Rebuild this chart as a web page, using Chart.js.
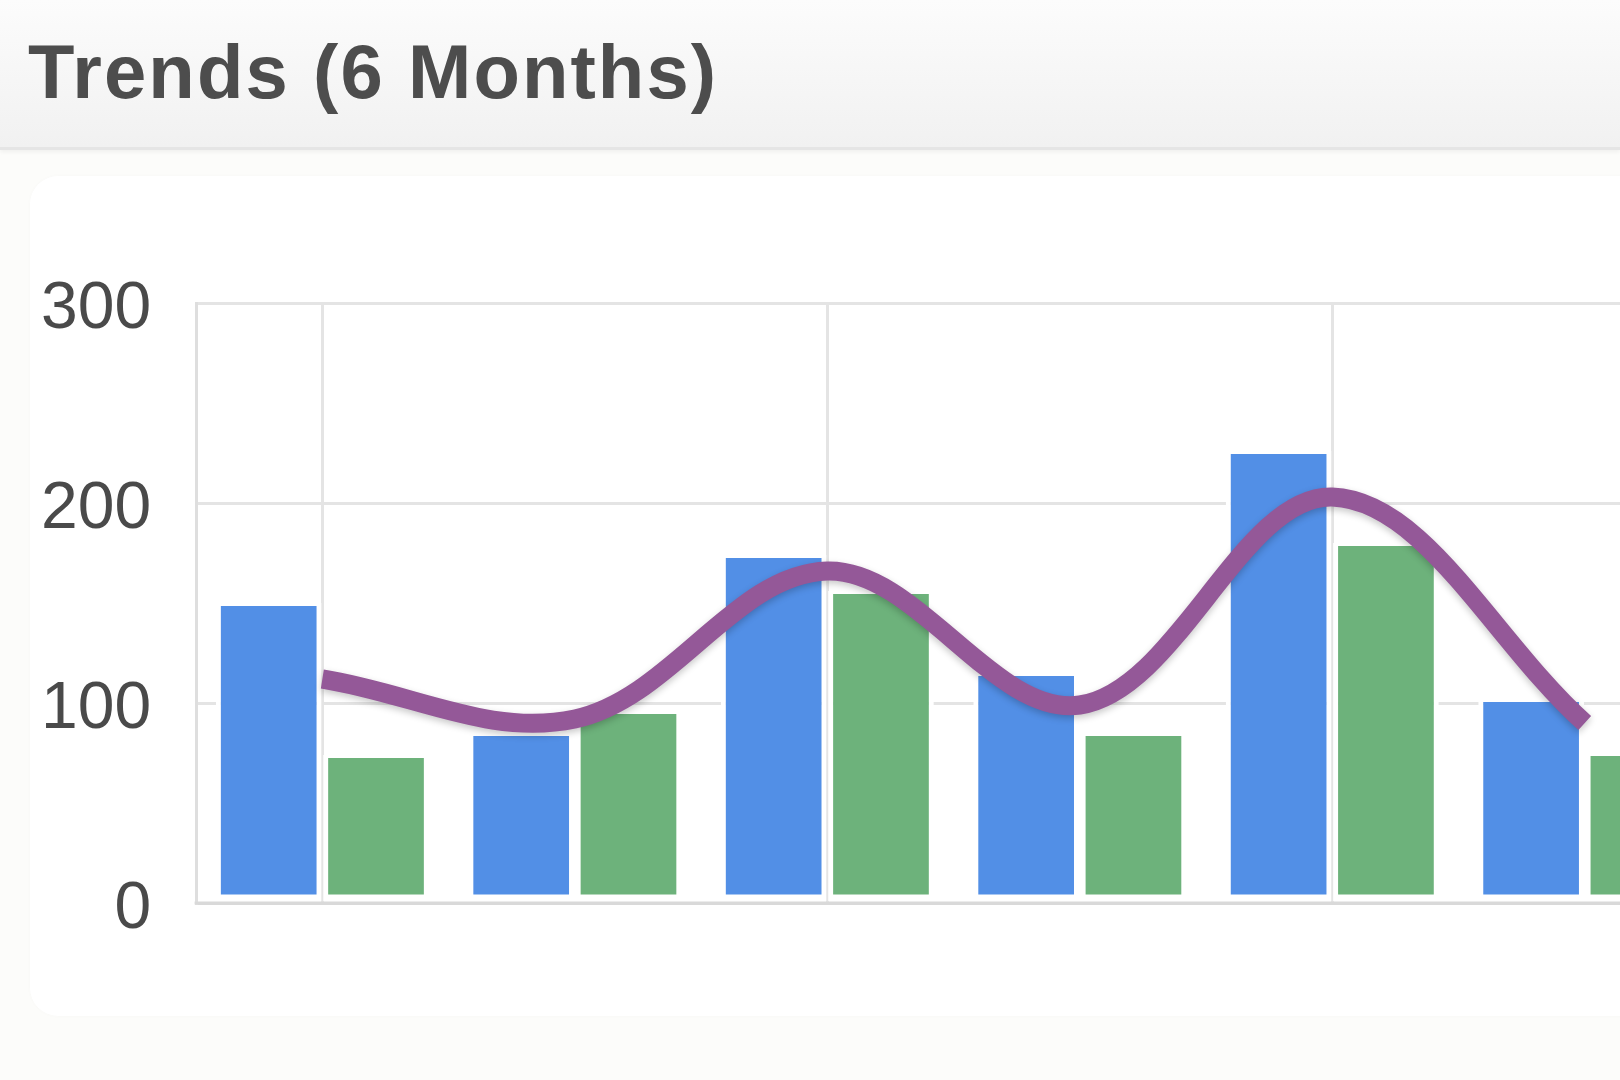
<!DOCTYPE html>
<html>
<head>
<meta charset="utf-8">
<title>Trends (6 Months)</title>
<script src="https://cdn.jsdelivr.net/npm/chart.js@4.4.1/dist/chart.umd.min.js"></script>
<style>
  html, body { margin: 0; padding: 0; }
  body {
    width: 1620px; height: 1080px; overflow: hidden; position: relative;
    background: #fcfcfa;
    font-family: 'Liberation Sans', Arial, sans-serif;
  }
  .panel-head {
    position: absolute; left: 0; top: 0; width: 1620px; height: 147px;
    background: linear-gradient(#fcfcfc, #f1f1f1);
    border-bottom: 3px solid #e5e5e5;
    box-shadow: 0 2px 4px rgba(0,0,0,0.05);
    z-index: 2;
  }
  .panel-head h3 {
    position: absolute; left: 28px; top: 34px; margin: 0;
    font-size: 76px; line-height: 1; font-weight: bold; color: #4d4d4d;
    letter-spacing: 2.1px;
  }
  .card {
    position: absolute; left: 30px; top: 176px; width: 1720px; height: 840px;
    background: #fff; border-radius: 28px;
    box-shadow: 0 0 4px rgba(0,0,0,0.02);
  }
  .chart-box {
    position: absolute; left: -46px; top: 150px; width: 1797px; height: 930px;
  }
</style>
</head>
<body>
<div class="panel-head"><h3>Trends (6 Months)</h3></div>
<div class="card"></div>
<div class="chart-box"><canvas id="trendChart"></canvas></div>

<script>
// --- data ---
const months = ['Month 1', 'Month 2', 'Month 3', 'Month 4', 'Month 5', 'Month 6'];
const blueValues = [150, 85, 174, 115, 226, 102];
const greenValues = [74, 96, 156, 85, 180, 75];
const trendValues = [112, 92, 166, 99, 203, 90];
const yTicks = [0, 100, 200, 300];

const gridColor = '#e4e4e4';

// soft shadow under the trend line
const lineShadow = {
    id: 'lineShadow',
    beforeDatasetDraw(chart, args) {
        if (args.index !== 2) return;
        const ctx = chart.ctx;
        ctx.save();
        ctx.shadowColor = 'rgba(0,0,0,0.22)';
        ctx.shadowBlur = 7;
        ctx.shadowOffsetY = 3;
    },
    afterDatasetDraw(chart, args) {
        if (args.index === 2) chart.ctx.restore();
    }
};

// redraw the base line so the bars' white edge does not hide it
const baseLine = {
    id: 'baseLine',
    afterDatasetsDraw(chart) {
        const { ctx, chartArea } = chart;
        const y = chart.scales.y.getPixelForValue(yTicks[0]);
        ctx.save();
        ctx.strokeStyle = '#d9d9d9';
        ctx.lineWidth = 3;
        ctx.beginPath();
        ctx.moveTo(chartArea.left - 1.5, y);
        ctx.lineTo(chartArea.right, y);
        ctx.stroke();
        ctx.restore();
    }
};

const barBorder = { top: 3, left: 5, right: 5, bottom: 7 };

new Chart(document.getElementById('trendChart').getContext('2d'), {
    data: {
        labels: months,
        datasets: [
            {
                type: 'bar',
                label: 'Series 1',
                data: blueValues,
                backgroundColor: '#528fe6',
                borderColor: '#ffffff',
                borderWidth: barBorder,
                borderSkipped: false,
                categoryPercentage: 0.85,
                barPercentage: 0.985,
                order: 2
            },
            {
                type: 'bar',
                label: 'Series 2',
                data: greenValues,
                backgroundColor: '#6db27b',
                borderColor: '#ffffff',
                borderWidth: barBorder,
                borderSkipped: false,
                categoryPercentage: 0.85,
                barPercentage: 0.985,
                order: 2
            },
            {
                type: 'line',
                label: 'Trend',
                data: trendValues,
                borderColor: '#945898',
                borderWidth: 19,
                tension: 0.36,
                pointRadius: 0,
                fill: false,
                order: 1
            }
        ]
    },
    options: {
        responsive: true,
        maintainAspectRatio: false,
        animation: false,
        layout: { padding: { top: 153, left: 42, right: 40, bottom: 177 } },
        plugins: {
            legend: { display: false },
            tooltip: { enabled: false }
        },
        scales: {
            x: {
                offset: true,
                grid: {
                    offset: false,
                    drawTicks: false,
                    lineWidth: 3,
                    color: (c) => (c.index % 2 === 0 ? gridColor : 'rgba(0,0,0,0)')
                },
                border: { display: true, color: '#d9d9d9', width: 3 },
                ticks: { display: false }
            },
            y: {
                min: yTicks[0],
                max: yTicks[yTicks.length - 1],
                afterBuildTicks: (scale) => { scale.ticks = yTicks.map(v => ({ value: v })); },
                grid: { drawTicks: false, lineWidth: 3, color: gridColor },
                border: { display: true, color: '#dedede', width: 3 },
                ticks: {
                    padding: 45,
                    labelOffset: 7,
                    color: '#4a4a4a',
                    font: { family: "'Liberation Sans', Arial, sans-serif", size: 66 }
                }
            }
        }
    },
    plugins: [lineShadow, baseLine]
});
</script>
</body>
</html>
